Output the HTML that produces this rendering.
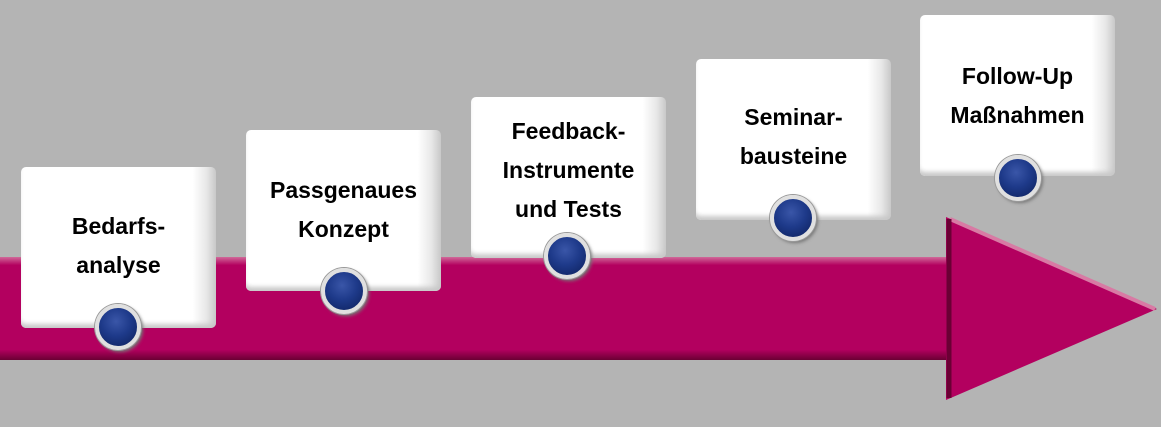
<!DOCTYPE html>
<html><head><meta charset="utf-8"><style>
body{margin:0;width:1161px;height:427px;background:#b4b4b4;position:relative;overflow:hidden;font-family:"Liberation Sans",sans-serif}
.b{position:absolute;width:195px;height:161px;background:linear-gradient(90deg,#fff 0,#fff 88%,#e8e8e8 95%,#c8c8c8 100%);border-radius:5px;box-shadow:inset 0 -6px 5px -2px #c8c8c8;text-align:center;font-weight:bold;font-size:23px;line-height:39px;color:#000;box-sizing:border-box}
.c{position:absolute;width:38px;height:38px;border-radius:50%;background:radial-gradient(circle at 45% 35%,#3a56a8 0,#1e3a8a 45%,#0c1f5a 100%);border:4px solid #e0e0e0;box-shadow:0 0 0 1px #999,2px 2px 3px #777}
</style></head><body>
<svg width="1161" height="427" style="position:absolute;left:0;top:0">
<defs><linearGradient id="g" x1="0" y1="0" x2="0" y2="1">
<stop offset="0" stop-color="#d06898"/><stop offset="0.08" stop-color="#b3005f"/><stop offset="0.9" stop-color="#b3005f"/><stop offset="1" stop-color="#6a0034"/></linearGradient></defs>
<polygon points="0,257 946,257 946,217 1157,309 946,400 946,360 0,360" fill="#b3005f"/>
<rect x="0" y="257" width="946" height="103" fill="url(#g)"/>
<line x1="950" y1="219" x2="1155" y2="309" stroke="#d87aa4" stroke-width="4"/>
<line x1="949" y1="219" x2="949" y2="398" stroke="#6a0034" stroke-width="5"/>
</svg>
<div class="b" style="left:21px;top:167px;padding-top:40px">Bedarfs-<br>analyse</div>
<div class="c" style="left:95px;top:304px"></div>
<div class="b" style="left:246px;top:130px;padding-top:41px">Passgenaues<br>Konzept</div>
<div class="c" style="left:321px;top:268px"></div>
<div class="b" style="left:471px;top:97px;padding-top:15px">Feedback-<br>Instrumente<br>und Tests</div>
<div class="c" style="left:544px;top:233px"></div>
<div class="b" style="left:696px;top:59px;padding-top:39px">Seminar-<br>bausteine</div>
<div class="c" style="left:770px;top:195px"></div>
<div class="b" style="left:920px;top:15px;padding-top:42px">Follow-Up<br>Maßnahmen</div>
<div class="c" style="left:995px;top:155px"></div>
</body></html>
